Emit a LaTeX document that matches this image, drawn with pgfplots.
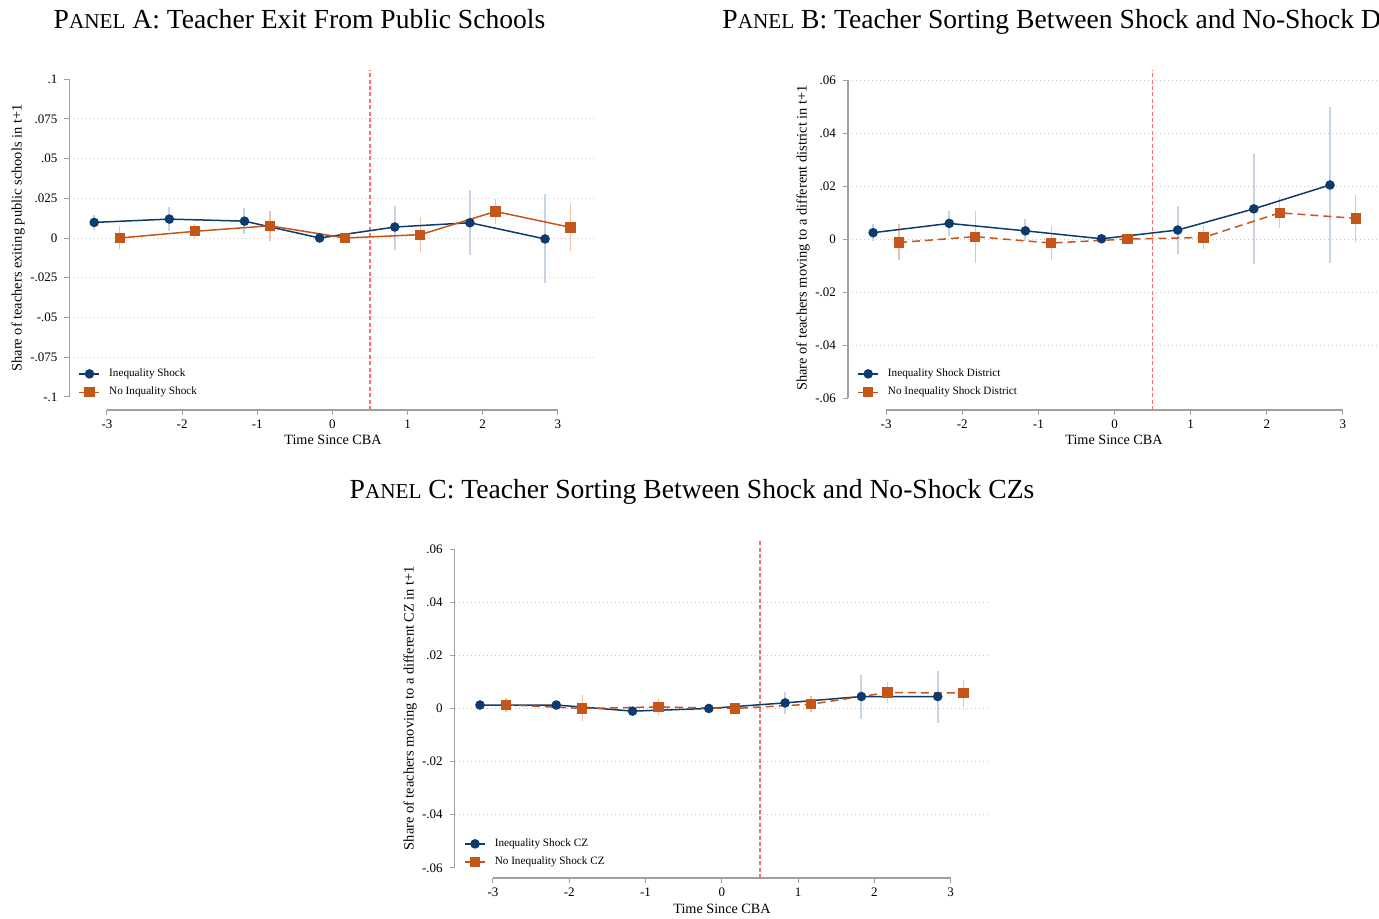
\documentclass[border=0pt]{standalone}
\usepackage{pgfplots}
\pgfplotsset{compat=1.18}
\usepackage{pgfplotstable}
\usepackage{fontspec}
\setmainfont{Liberation Serif}

\definecolor{navy}{HTML}{0D3B6E}
\definecolor{orng}{HTML}{C4561A}
\definecolor{ciblue}{HTML}{C6D4E3}
\definecolor{ciorng}{HTML}{F3C2A4}
\definecolor{refred}{HTML}{FF6E6E}
\definecolor{axgray}{HTML}{A0A0A0}
\definecolor{gridgray}{HTML}{C8C8C8}

% Panel A
\pgfplotstableread{
x y hi lo
-3.17 0.0098 0.0146 0.0048
-2.17 0.0119 0.0198 0.0042
-1.17 0.0106 0.0188 0.0025
-0.17 0.0000 0.0000 0.0000
0.83 0.0069 0.0204 -0.0073
1.83 0.0096 0.0302 -0.0110
2.83 -0.0006 0.0275 -0.0280
}\Ab
\pgfplotstableread{
x y hi lo
-2.83 0.0000 0.0073 -0.0067
-1.83 0.0042 0.0090 -0.0006
-0.83 0.0077 0.0171 -0.0021
0.17 0.0000 0.0000 0.0000
1.17 0.0021 0.0135 -0.0090
2.17 0.0167 0.0246 0.0088
3.17 0.0067 0.0219 -0.0083
}\Ao
% Panel B
\pgfplotstableread{
x y hi lo
-3.17 0.0024 0.0056 -0.0009
-2.17 0.0059 0.0106 0.0010
-1.17 0.0031 0.0075 -0.0006
-0.17 0.0001 0.0001 0.0001
0.83 0.0034 0.0125 -0.0056
1.83 0.0114 0.0321 -0.0096
2.83 0.0204 0.0498 -0.0091
}\Bb
\pgfplotstableread{
x y hi lo
-2.83 -0.0013 0.0056 -0.0079
-1.83 0.0009 0.0106 -0.0090
-0.83 -0.0015 0.0050 -0.0079
0.17 0.0000 0.0000 0.0000
1.17 0.0006 0.0050 -0.0038
2.17 0.0099 0.0159 0.0040
3.17 0.0078 0.0166 -0.0013
}\Bo
% Panel C
\pgfplotstableread{
x y hi lo
-3.17 0.0013 0.0019 0.0007
-2.17 0.0013 0.0021 0.0005
-1.17 -0.0010 -0.0004 -0.0016
-0.17 0.0000 0.0000 0.0000
0.83 0.0021 0.0063 -0.0019
1.83 0.0045 0.0126 -0.0038
2.83 0.0045 0.0141 -0.0053
}\Cb
\pgfplotstableread{
x y hi lo
-2.83 0.0014 0.0038 -0.0013
-1.83 0.0000 0.0050 -0.0049
-0.83 0.0006 0.0039 -0.0029
0.17 0.0000 0.0000 0.0000
1.17 0.0016 0.0046 -0.0013
2.17 0.0060 0.0098 0.0020
3.17 0.0058 0.0108 0.0006
}\Co

\pgfplotsset{
  stataax/.style={
    scale only axis, anchor=south west,
    xmin=-3.5, xmax=3.5,
    scaled y ticks=false, scaled x ticks=false,
    axis line style={draw=none},
    tick align=outside, xtick pos=bottom, ytick pos=left,
    major tick length=2.5pt,
    tick style={draw=axgray, line width=0.5pt},
    xtick={-3,-2,-1,0,1,2,3}, xticklabels={-3,-2,-1,0,1,2,3},
    ymajorgrids,
    grid style={draw=gridgray, dash pattern=on 0.5pt off 1.5pt, line width=0.5pt},
    extra y tick style={grid=none},
    ticklabel style={font=\fontsize{6.5}{7}\selectfont},
    xticklabel style={yshift=1pt},
    clip=false,
    legend cell align=left,
    legend style={draw=none, fill=none, font=\fontsize{5.6}{6.5}\selectfont,
      anchor=north west, at={(0.017,0.132)}, row sep=0.8pt, inner sep=0pt,
      nodes={inner sep=1.5pt}},
    legend image code/.code={\draw[mark repeat=2, mark phase=2] plot coordinates {(0pt,0pt) (5pt,0pt) (10pt,0pt)}; \path (13pt,0pt);},
  },
  cib/.style={draw=none, forget plot, error bars/.cd, y dir=both, y explicit, error mark=none,
    error bar style={draw=ciblue, solid, line width=1pt}},
  cio/.style={draw=none, forget plot, error bars/.cd, y dir=both, y explicit, error mark=none,
    error bar style={draw=ciorng, solid, line width=0.6pt}},
  blueline/.style={navy, line width=0.75pt, mark=*, mark size=2pt, mark options={solid, fill=navy}},
  orngline/.style={orng, line width=0.75pt, mark=square*, mark size=2.2pt, mark options={solid, fill=orng}},
}

\newcommand{\ptitle}[2]{{\fontsize{13.8}{16}\selectfont P{\fontsize{10.6}{12}\selectfont ANEL} #1: #2}}

\begin{document}
\begin{tikzpicture}
\useasboundingbox (0,0) rectangle (689.5pt,459.5pt);
\clip (0,0) rectangle (689.5pt,459.5pt);

% titles
\node[anchor=base, inner sep=0pt] at (149.75pt,445pt) {\ptitle{A}{Teacher Exit From Public Schools}};
\node[anchor=base west, inner sep=0pt] at (361pt,445pt) {\ptitle{B}{Teacher Sorting Between Shock and No-Shock Districts}};
\node[anchor=base, inner sep=0pt] at (346pt,210pt) {\ptitle{C}{Teacher Sorting Between Shock and No-Shock CZs}};

% axis labels
\node[rotate=90, font=\fontsize{7.2}{8}\selectfont] at (9pt,340.5pt) {Share of teachers exiting public schools in t+1};
\node[rotate=90, font=\fontsize{7.2}{8}\selectfont] at (401.5pt,340.5pt) {Share of teachers moving to a different district in t+1};
\node[rotate=90, font=\fontsize{7.2}{8}\selectfont] at (205pt,105.5pt) {Share of teachers moving to a different CZ in t+1};
\node[font=\fontsize{7.1}{8}\selectfont] at (166.5pt,239.5pt) {Time Since CBA};
\node[font=\fontsize{7.1}{8}\selectfont] at (557pt,239.5pt) {Time Since CBA};
\node[font=\fontsize{7.1}{8}\selectfont] at (361pt,5pt) {Time Since CBA};

% ---------------- Panel A
\begin{axis}[stataax, at={(34.7pt,254.5pt)}, width=263pt, height=170pt,
  ymin=-0.1082, ymax=0.1057,
  ytick={-0.075,-0.05,-0.025,0,0.025,0.05,0.075},
  yticklabels={-.075,-.05,-.025,0,.025,.05,.075},
  extra y ticks={-0.1,0.1}, extra y tick labels={-.1,.1}]
\draw[refred, dash pattern=on 2pt off 1.2pt, line width=0.6pt] (axis cs:0.5,-0.1082) -- (axis cs:0.5,0.1057);
\addplot[cib] table[x=x, y=y, y error plus expr=\thisrow{hi}-\thisrow{y}, y error minus expr=\thisrow{y}-\thisrow{lo}] {\Ab};
\addplot[cio] table[x=x, y=y, y error plus expr=\thisrow{hi}-\thisrow{y}, y error minus expr=\thisrow{y}-\thisrow{lo}] {\Ao};
\addplot[blueline] table[x=x, y=y] {\Ab};
\addlegendentry{Inequality Shock}
\addplot[orngline] table[x=x, y=y] {\Ao};
\addlegendentry{No Inquality Shock}
\draw[axgray, line width=0.6pt] (axis cs:-3.5,-0.1) -- (axis cs:-3.5,0.1);
\draw[axgray, line width=0.6pt] (axis cs:-3,-0.1082) -- (axis cs:3,-0.1082);
\end{axis}

% ---------------- Panel B
\begin{axis}[stataax, at={(424pt,254.5pt)}, width=266.5pt, height=170pt,
  ymin=-0.0645, ymax=0.0638,
  ytick={-0.04,-0.02,0,0.02,0.04,0.06},
  yticklabels={-.04,-.02,0,.02,.04,.06},
  extra y ticks={-0.06}, extra y tick labels={-.06}]
\draw[refred, dash pattern=on 2pt off 1.2pt, line width=0.6pt] (axis cs:0.5,-0.0645) -- (axis cs:0.5,0.0638);
\addplot[cib] table[x=x, y=y, y error plus expr=\thisrow{hi}-\thisrow{y}, y error minus expr=\thisrow{y}-\thisrow{lo}] {\Bb};
\addplot[cio] table[x=x, y=y, y error plus expr=\thisrow{hi}-\thisrow{y}, y error minus expr=\thisrow{y}-\thisrow{lo}] {\Bo};
\addplot[blueline] table[x=x, y=y] {\Bb};
\addlegendentry{Inequality Shock District}
\addplot[orngline, dash pattern=on 4pt off 2.5pt] table[x=x, y=y] {\Bo};
\addlegendentry{No Inequality Shock District}
\draw[axgray, line width=0.6pt] (axis cs:-3.5,-0.06) -- (axis cs:-3.5,0.06);
\draw[axgray, line width=0.6pt] (axis cs:-3,-0.0645) -- (axis cs:3,-0.0645);
\end{axis}

% ---------------- Panel C
\begin{axis}[stataax, at={(227.4pt,20.5pt)}, width=267pt, height=169pt,
  ymin=-0.0638, ymax=0.0634,
  ytick={-0.04,-0.02,0,0.02,0.04},
  yticklabels={-.04,-.02,0,.02,.04},
  extra y ticks={-0.06,0.06}, extra y tick labels={-.06,.06},
  legend style={at={(0.017,0.127)}}]
\draw[refred, dash pattern=on 2pt off 1.2pt, line width=0.6pt] (axis cs:0.5,-0.0638) -- (axis cs:0.5,0.0634);
\addplot[cib] table[x=x, y=y, y error plus expr=\thisrow{hi}-\thisrow{y}, y error minus expr=\thisrow{y}-\thisrow{lo}] {\Cb};
\addplot[cio] table[x=x, y=y, y error plus expr=\thisrow{hi}-\thisrow{y}, y error minus expr=\thisrow{y}-\thisrow{lo}] {\Co};
\addplot[blueline] table[x=x, y=y] {\Cb};
\addlegendentry{Inequality Shock CZ}
\addplot[orngline, dash pattern=on 4pt off 2.5pt] table[x=x, y=y] {\Co};
\addlegendentry{No Inequality Shock CZ}
\draw[axgray, line width=0.6pt] (axis cs:-3.5,-0.06) -- (axis cs:-3.5,0.06);
\draw[axgray, line width=0.6pt] (axis cs:-3,-0.0638) -- (axis cs:3,-0.0638);
\end{axis}
\end{tikzpicture}
\end{document}
